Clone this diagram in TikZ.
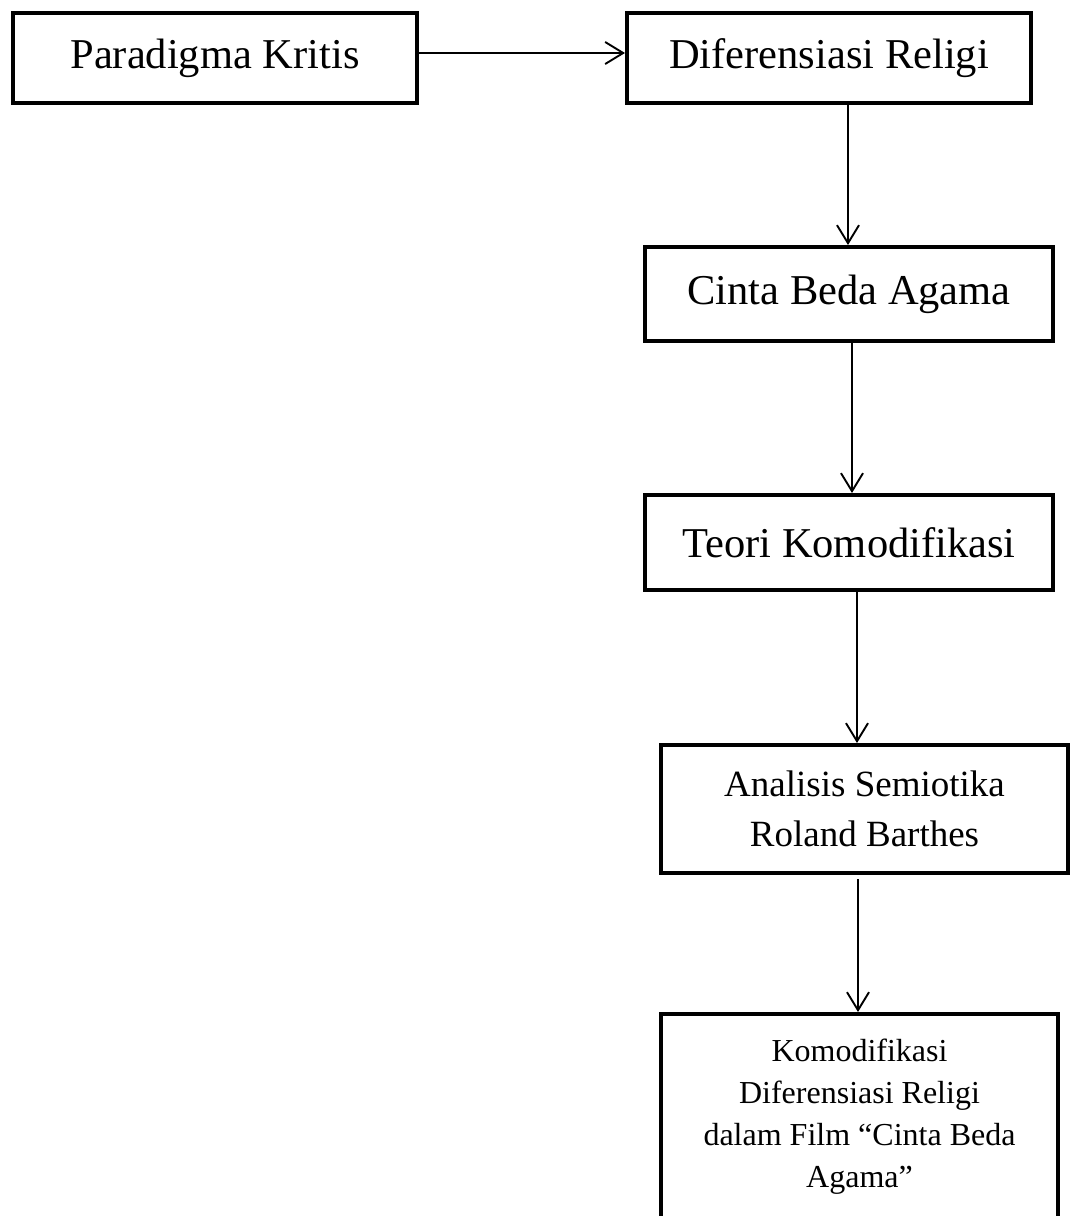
\documentclass[tikz,border=0pt]{standalone}
\usepackage{fontspec}
\setmainfont{Liberation Serif}
\usetikzlibrary{arrows.meta}
\tikzset{
  box/.style={draw, line width=4pt, rectangle, inner sep=0pt, align=center,
    font=\fontsize{42.5}{50}\selectfont},
  arr/.style={line width=1.9pt, -{Straight Barb[length=18pt,width=22pt,line width=1.9pt]}}
}
\begin{document}
\begin{tikzpicture}[x=1pt,y=-1pt]
\useasboundingbox (0,0) rectangle (1072,1216);
\clip (0,0) rectangle (1072,1216);
\node[box, minimum width=404pt, minimum height=90pt] (b1) at (215,58) {\raisebox{-4pt}{Paradigma Kritis}};
\node[box, minimum width=404pt, minimum height=90pt] (b2) at (829,58) {\raisebox{-4pt}{Diferensiasi Religi}};
\node[box, minimum width=408pt, minimum height=94pt] (b3) at (849,294) {\raisebox{-3pt}{Cinta Beda Agama}};
\node[box, minimum width=408pt, minimum height=95pt] (b4) at (849,542.5) {\raisebox{-3pt}{Teori Komodifikasi}};
\node[box, minimum width=407pt, minimum height=128pt, font=\fontsize{37}{50}\selectfont] (b5) at (864.5,809) {Analisis Semiotika\\Roland Barthes};
\node[box, minimum width=397pt, minimum height=206pt, font=\fontsize{32}{42}\selectfont] (b6) at (859.5,1117) {Komodifikasi\\Diferensiasi Religi\\dalam Film “Cinta Beda\\Agama”};
\draw[arr] (b1.east |- 0,53) -- (b2.west |- 0,53);
\draw[arr] (b2.south -| 848,0) -- (b3.north -| 848,0);
\draw[arr] (b3.south -| 852,0) -- (b4.north -| 852,0);
\draw[arr] (b4.south -| 857,0) -- (b5.north -| 857,0);
\draw[arr] ([yshift=-4pt]b5.south -| 858,0) -- (b6.north -| 858,0);
\end{tikzpicture}
\end{document}
